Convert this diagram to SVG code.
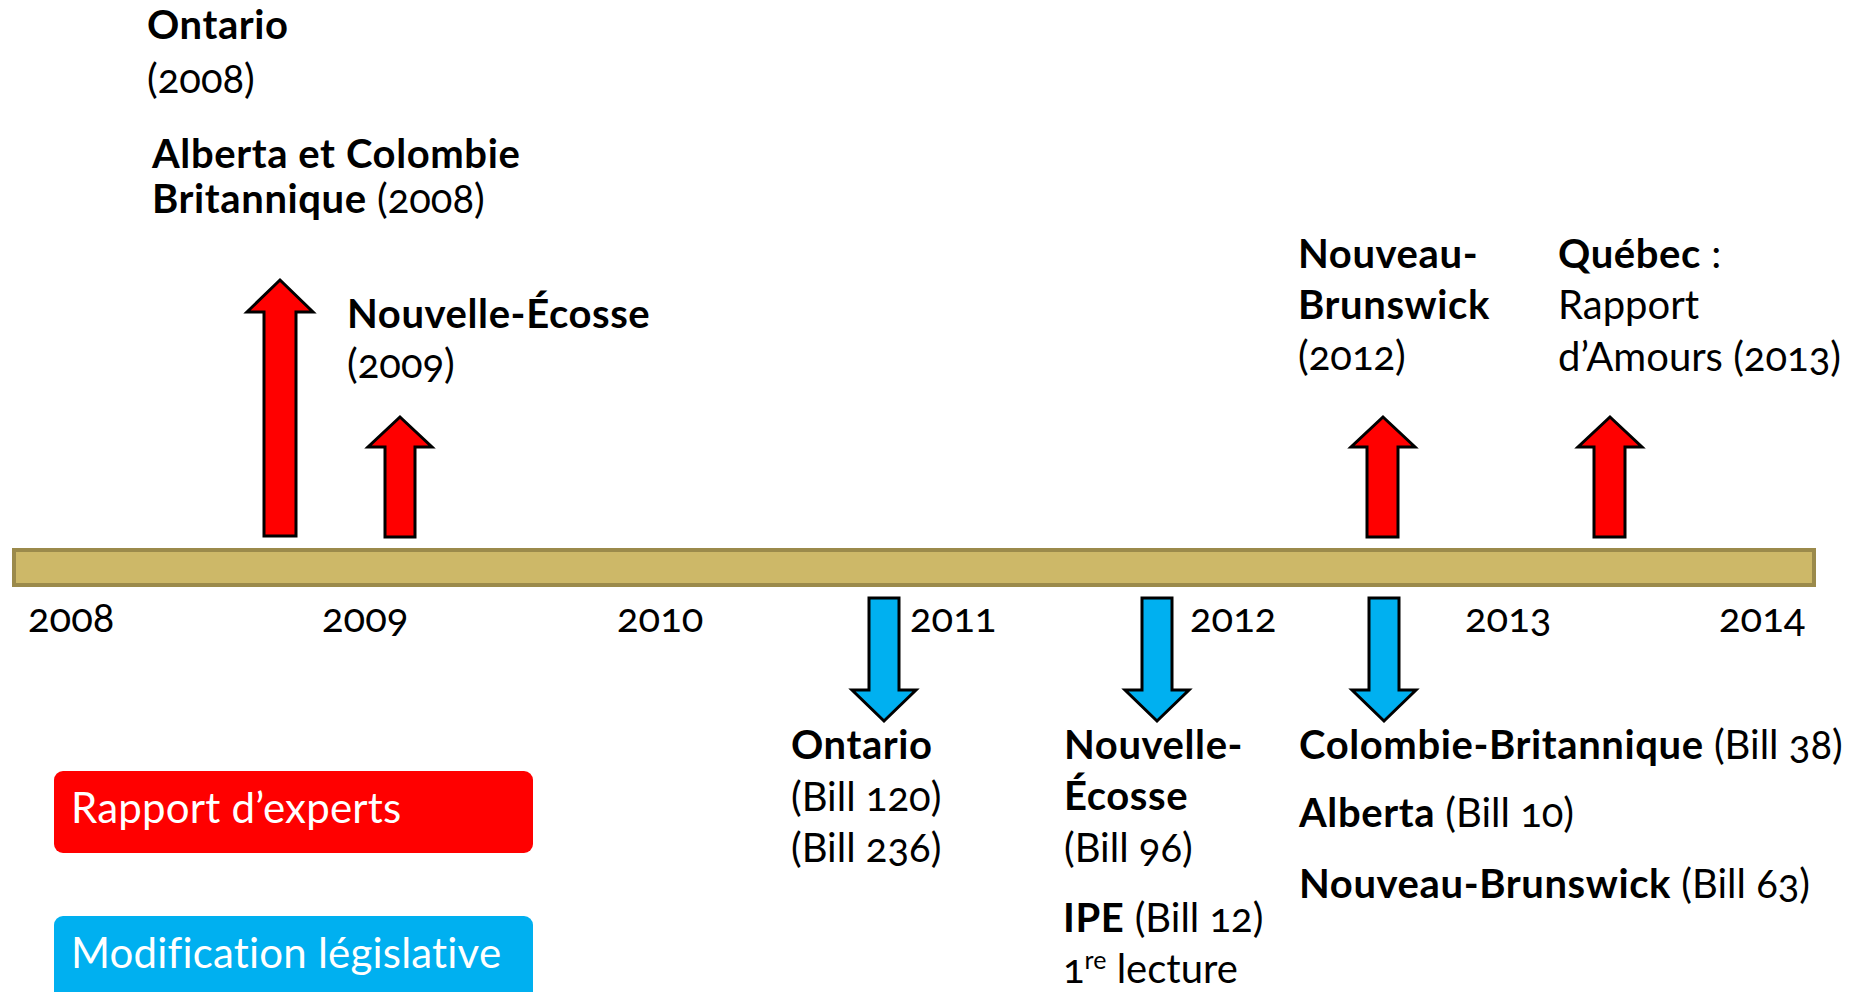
<svg xmlns="http://www.w3.org/2000/svg" width="1862" height="992" viewBox="0 0 1862 992">
<style>
text { font-family: Lato, "Open Sans", "Liberation Sans", sans-serif; font-size: 40px; letter-spacing: 0px; fill: #000; font-variant-numeric: oldstyle-nums; }
.b { font-weight: bold; letter-spacing: 0.6px; }
.leg { fill: #fff; font-size: 42px; letter-spacing: 0.2px; }
.up { fill: #FF0000; stroke: #000; stroke-width: 3; stroke-linejoin: miter; }
.down { fill: #00B0F0; stroke: #000; stroke-width: 3; stroke-linejoin: miter; }
</style>
<rect width="1862" height="992" fill="#fff"/>
<g id="timeline">
  <rect x="14" y="550" width="1800" height="35" fill="#CDB868" stroke="#9B8A4B" stroke-width="4"/>
  <text x="28" y="632">2008</text>
  <text x="322" y="632">2009</text>
  <text x="617" y="632">2010</text>
  <text x="910" y="632">2011</text>
  <text x="1190" y="632">2012</text>
  <text x="1465" y="632">2013</text>
  <text x="1719" y="632">2014</text>
</g>
<g id="connectors">
  <polygon class="up" points="280,280 313,312 296,312 296,536 264,536 264,312 247,312"/>
  <polygon class="up" points="400,417 432,447 415,447 415,537 385,537 385,447 368,447"/>
  <polygon class="up" points="1383,417 1415,447 1398,447 1398,537 1367,537 1367,447 1351,447"/>
  <polygon class="up" points="1610,417 1642,447 1625,447 1625,537 1594,537 1594,447 1578,447"/>
  <polygon class="down" points="869,598 899,598 899,690 916,690 884,721 852,690 869,690"/>
  <polygon class="down" points="1142,598 1172,598 1172,690 1189,690 1157,721 1125,690 1142,690"/>
  <polygon class="down" points="1369,598 1399,598 1399,690 1416,690 1384,721 1352,690 1369,690"/>
</g>
<g id="ontario-2008">
  <text x="147" y="39" class="b">Ontario</text>
  <text x="147" y="93">(2008)</text>
</g>
<g id="alberta-cb-2008">
  <text x="152" y="168" class="b">Alberta et Colombie</text>
  <text x="152" y="213"><tspan class="b">Britannique</tspan> (2008)</text>
</g>
<g id="ne-2009">
  <text x="347" y="328" class="b">Nouvelle-Écosse</text>
  <text x="347" y="378">(2009)</text>
</g>
<g id="nb-2012">
  <text x="1298" y="268" class="b">Nouveau-</text>
  <text x="1298" y="319" class="b">Brunswick</text>
  <text x="1298" y="370">(2012)</text>
</g>
<g id="qc-2013">
  <text x="1558" y="268"><tspan class="b">Québec</tspan> :</text>
  <text x="1558" y="319">Rapport</text>
  <text x="1558" y="371">d’Amours (2013)</text>
</g>
<g id="ontario-bills">
  <text x="791" y="759" class="b">Ontario</text>
  <text x="791" y="811">(Bill 120)</text>
  <text x="791" y="862">(Bill 236)</text>
</g>
<g id="ne-bills">
  <text x="1064" y="759" class="b">Nouvelle-</text>
  <text x="1064" y="810" class="b">Écosse</text>
  <text x="1064" y="862">(Bill 96)</text>
  <text x="1063" y="932"><tspan class="b">IPE</tspan> (Bill 12)</text>
  <text x="1063" y="983">1<tspan dy="-14" font-size="25">re</tspan><tspan dy="14"> lecture</tspan></text>
</g>
<g id="other-bills">
  <text x="1299" y="759"><tspan class="b">Colombie-Britannique</tspan> (Bill 38)</text>
  <text x="1299" y="827"><tspan class="b">Alberta</tspan> (Bill 10)</text>
  <text x="1299" y="898"><tspan class="b">Nouveau-Brunswick</tspan> (Bill 63)</text>
</g>
<g id="legend-rapport">
  <rect x="54" y="771" width="479" height="82" rx="9" fill="#FF0000"/>
  <text x="71" y="823" class="leg">Rapport d’experts</text>
</g>
<g id="legend-modification">
  <rect x="54" y="916" width="479" height="100" rx="9" fill="#00B0F0"/>
  <text x="71" y="968" class="leg">Modification législative</text>
</g>
</svg>
